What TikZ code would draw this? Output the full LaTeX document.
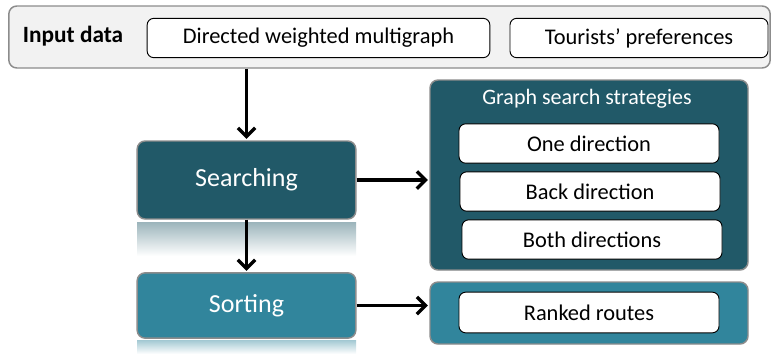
\documentclass[tikz,border=0pt]{standalone}
\usepackage{fontspec}
\setmainfont{Carlito}
\usetikzlibrary{arrows.meta}
\definecolor{tealdark}{HTML}{215968}
\definecolor{tealmid}{HTML}{31859C}
\definecolor{panelgray}{HTML}{F2F2F2}
\definecolor{edgegray}{HTML}{8C8C8C}

\begin{document}
\begin{tikzpicture}[x=0.75pt, y=-0.75pt,
  panel/.style={draw=edgegray, line width=1.1pt, rounded corners=6pt, inner sep=0pt},
  whitebox/.style={draw=black, fill=white, line width=0.7pt, rounded corners=5pt,
    inner sep=0pt, minimum height=29.5pt, font=\fontsize{16.8}{18}\selectfont},
  stage/.style={panel, text=white, minimum width=164pt, font=\fontsize{19.5}{22}\selectfont},
  flow/.style={line width=2.5pt, -{Straight Barb[length=6.5pt,width=13pt]}, shorten >=1pt}]
  \useasboundingbox (0,0) rectangle (771,354);
  % input data
  \node[panel, fill=panelgray, minimum width=571pt, minimum height=46.5pt] (input) at (389.5,37) {};
  \node[font=\fontsize{17.5}{19}\selectfont\bfseries] (inlabel) at (73,36) {Input data};
  \node[whitebox, minimum width=257pt] (graph) at (318.5,38) {Directed weighted multigraph};
  \node[whitebox, minimum width=193.5pt] (prefs) at (639,38) {Tourists’ preferences};
  % reflections
  \shade[top color=tealdark!45, bottom color=white] (137,222) rectangle (356,256);
  \shade[top color=tealmid!45, bottom color=white] (137,340) rectangle (356,354);
  % stages
  \node[stage, fill=tealdark, minimum height=58.5pt] (search) at (246.5,180) {Searching};
  \node[stage, fill=tealmid, minimum height=49pt] (sort) at (246.5,305.5) {Sorting};
  % strategies
  \node[panel, fill=tealdark, minimum width=238.5pt, minimum height=142.5pt] (strat) at (589,175) {};
  \node[text=white, font=\fontsize{16.5}{18}\selectfont] (strattitle) at (587,99) {Graph search strategies};
  \node[whitebox, minimum width=195pt] (one) at (589,143.5) {One direction};
  \node[whitebox, minimum width=195pt] (back) at (590,191.5) {Back direction};
  \node[whitebox, minimum width=195pt] (both) at (592,239.5) {Both directions};
  % ranking
  \node[panel, fill=tealmid, minimum width=238.5pt, minimum height=46.5pt] (rank) at (589,313) {};
  \node[whitebox, minimum width=195pt, minimum height=30.5pt] (routes) at (589,312.5) {Ranked routes};
  % connectors
  \draw[flow] (input.south -| search.north) -- (search.north);
  \draw[flow] (search.south) -- (sort.north);
  \draw[flow] (search.east) -- (search.east -| strat.west);
  \draw[flow] (sort.east) -- (sort.east -| rank.west);
\end{tikzpicture}
\end{document}
